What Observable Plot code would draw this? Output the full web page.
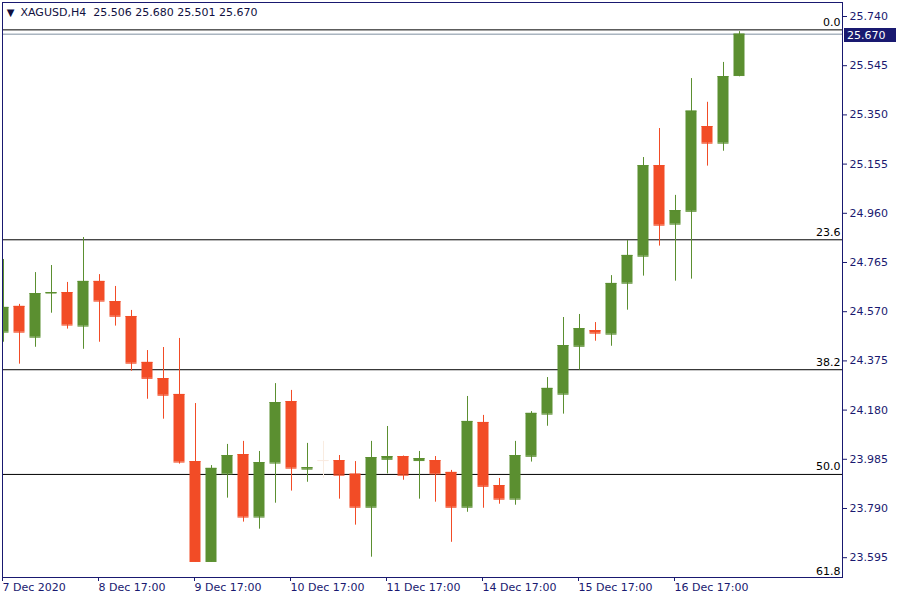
<!DOCTYPE html>
<html><head><meta charset="utf-8">
<script src="https://cdn.jsdelivr.net/npm/d3@7"></script>
<script src="https://cdn.jsdelivr.net/npm/@observablehq/plot@0.6"></script>
<style>
html,body{margin:0;padding:0;background:#fff;}
#chart{position:relative;width:900px;height:600px;overflow:hidden;}
</style></head><body><div id="chart"></div>
<script>
const symbol = "XAGUSD,H4";
const open  = [24.489,24.591,24.469,24.644,24.646,24.513,24.690,24.610,24.551,24.369,24.305,24.242,23.976,23.580,23.927,24.004,23.756,23.970,24.214,23.946,23.980,23.980,23.926,23.795,23.985,23.996,23.980,23.980,23.933,23.795,24.131,23.881,23.827,23.997,24.164,24.243,24.433,24.495,24.481,24.683,24.790,25.149,24.917,24.968,25.304,25.238,25.506];
const high  = [24.777,24.599,24.725,24.753,24.686,24.864,24.717,24.670,24.575,24.416,24.428,24.464,24.206,23.960,24.044,24.056,24.016,24.285,24.258,24.048,24.056,24.000,23.976,24.056,24.115,23.998,24.016,23.996,23.941,24.234,24.159,23.909,24.056,24.174,24.309,24.547,24.559,24.527,24.713,24.852,25.181,25.296,25.031,25.494,25.400,25.558,25.680];
const low   = [24.449,24.362,24.429,24.564,24.501,24.421,24.449,24.513,24.334,24.223,24.144,23.966,23.578,23.578,23.831,23.736,23.708,23.811,23.859,23.894,23.910,23.827,23.724,23.597,23.927,23.902,23.827,23.815,23.656,23.775,23.791,23.807,23.803,23.974,24.116,24.164,24.338,24.453,24.433,24.576,24.711,24.830,24.691,24.699,25.147,25.206,25.501];
const close = [24.587,24.489,24.642,24.646,24.517,24.690,24.612,24.552,24.366,24.306,24.239,23.974,23.580,23.949,24.000,23.756,23.972,24.210,23.950,23.952,23.980,23.922,23.795,23.992,23.996,23.922,23.988,23.927,23.795,24.135,23.878,23.827,24.000,24.167,24.266,24.436,24.503,24.485,24.682,24.793,25.149,24.913,24.971,25.365,25.238,25.502,25.670];

const dateTickIndex = [0, 6, 12, 18, 24, 30, 36, 42];
const dateLabels = ["7 Dec 2020", "8 Dec 17:00", "9 Dec 17:00", "10 Dec 17:00", "11 Dec 17:00", "14 Dec 17:00", "15 Dec 17:00", "16 Dec 17:00"];
const priceTicks = [25.740, 25.545, 25.350, 25.155, 24.960, 24.765, 24.570, 24.375, 24.180, 23.985, 23.790, 23.595];
const fibLabels = ["0.0", "23.6", "38.2", "50.0", "61.8"];
const fibPrices = [25.687, 24.855, 24.340, 23.925, 23.509];

const candles = open.map((o, i) => ({i, open: o, high: high[i], low: low[i], close: close[i]}));
const fib = fibLabels.map((label, k) => ({label, price: fibPrices[k]}));
const last = candles[candles.length - 1];

const UP = "#5b8f30", DOWN = "#f24c26", FLAT = "#f9ece1", NAVY = "#191970";
const color = d => d.close > d.open ? UP : d.close < d.open ? DOWN : FLAT;
const HALF = 0.34375;
const FONT = "'DejaVu Sans', Verdana, sans-serif";

const chart = Plot.plot({
  width: 900, height: 600,
  marginLeft: 2, marginRight: 58, marginTop: 2, marginBottom: 23,
  style: {fontFamily: FONT, fontSize: "11px", background: "#fff", color: NAVY, overflow: "visible"},
  x: {type: "linear", domain: [-0.0625, 52.4375], axis: null},
  y: {domain: [23.5165, 25.7955], axis: null},
  marks: [
    Plot.ruleY(fib, {y: "price", stroke: "#000", strokeWidth: 1, clip: true}),
    Plot.ruleY([last], {y: "close", stroke: "#7f8fa0", strokeWidth: 1, clip: true}),
    Plot.ruleX(candles, {x: "i", y1: "low", y2: "high", stroke: color, clip: true}),
    Plot.rect(candles, {x1: d => d.i - HALF, x2: d => d.i + HALF, y1: "open", y2: "close", fill: color, clip: true}),
    Plot.ruleY(candles, {y: "open", x1: d => d.i - HALF, x2: d => d.i + HALF, stroke: color, clip: true}),
    Plot.ruleY(candles, {y: "close", x1: d => d.i - HALF, x2: d => d.i + HALF, stroke: color, clip: true}),
    Plot.text(fib, {y: "price", text: "label", frameAnchor: "right", textAnchor: "end", lineAnchor: "bottom", dx: -2, dy: -4, fill: "#000", fontSize: 11}),
    Plot.axisY({anchor: "right", ticks: priceTicks, tickFormat: d => d.toFixed(3), tickSize: 4, tickPadding: 3, fontSize: 11, label: null}),
    Plot.axisX({ticks: dateTickIndex, tickFormat: i => dateLabels[dateTickIndex.indexOf(i)], textAnchor: "start", dx: -1, tickSize: 4, tickPadding: 2, fontSize: 11, label: null}),
    Plot.frame({stroke: NAVY}),
    Plot.text([last], {frameAnchor: "top-left", dx: 8, dy: 10, lineAnchor: "middle", textAnchor: "middle", text: () => "\u25BC", fontSize: 10, fill: "#101040"}),
    Plot.text([last], {frameAnchor: "top-left", dx: 18, dy: 10, lineAnchor: "middle", textAnchor: "start",
      text: d => `${symbol}\u00a0\u00a0${d.open.toFixed(3)} ${d.high.toFixed(3)} ${d.low.toFixed(3)} ${d.close.toFixed(3)}`,
      fontSize: 11, fill: "#101040"})
  ]
});

// current price badge on the right axis
const yS = chart.scale("y");
const yc = Math.round(yS.apply(last.close));
const svg = d3.select(chart);
const badge = svg.append("g").attr("text-anchor", "start");
badge.append("rect").attr("x", 844).attr("y", yc - 6).attr("width", 52).attr("height", 14).attr("fill", NAVY);
badge.append("text").attr("x", 847).attr("y", yc + 1).attr("dy", "0.32em").attr("text-anchor", "start")
  .attr("fill", "#fff").attr("font-size", 11).attr("font-family", FONT).text(last.close.toFixed(3));

document.getElementById("chart").appendChild(chart);
</script>
</body></html>
